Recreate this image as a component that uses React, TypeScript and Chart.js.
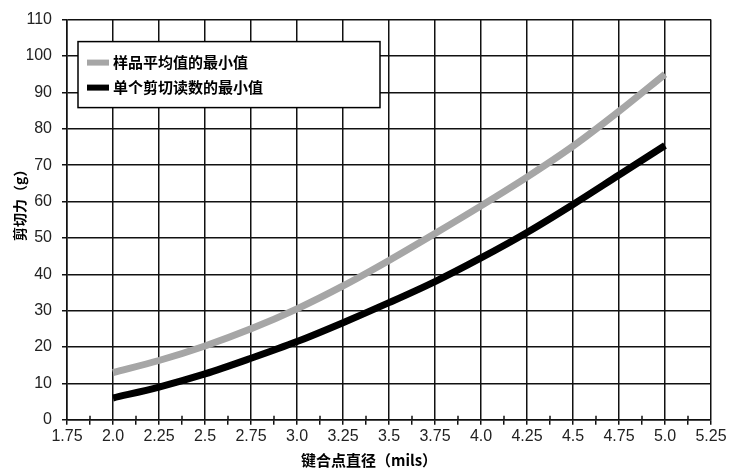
import React, { useEffect, useRef } from 'react';
import { Chart, registerables } from 'chart.js';

Chart.register(...registerables);

const xValues = [2.0, 2.25, 2.5, 2.75, 3.0, 3.25, 3.5, 3.75, 4.0, 4.25, 4.5, 4.75, 5.0];
const avgMin = [13, 16.3, 20.3, 25, 30.5, 36.8, 43.8, 51.2, 58.8, 66.7, 75.2, 84.8, 95];
const singleMin = [6, 9, 12.6, 16.9, 21.5, 26.7, 32.2, 38, 44.5, 51.5, 59.2, 67.3, 75.4];
const seriesLabels = ['样品平均值的最小值', '单个剪切读数的最小值'];
const xTitle = '键合点直径（mils）';
const yTitle = '剪切力（g）';

const LATIN = '"Liberation Sans", Arial, sans-serif';
const CJK = '"Noto Sans CJK SC", "Liberation Sans", sans-serif';

const fmtX = (v: number) => {
  const s = v.toFixed(2);
  return s.endsWith('0') ? s.slice(0, -1) : s;
};
const isMajor = (v: number) => Math.abs(v * 4 - Math.round(v * 4)) < 1e-6;

const extras = {
  id: 'extras',
  afterDatasetsDraw(chart: any) {
    const ctx = chart.ctx;
    const { left, top, bottom } = chart.chartArea;
    // minor tick marks crossing the x axis
    const xs = chart.scales.x;
    ctx.save();
    ctx.strokeStyle = '#111';
    ctx.lineWidth = 1.5;
    xs.ticks.forEach((t: any) => {
      if (!isMajor(t.value)) {
        const px = xs.getPixelForValue(t.value);
        ctx.beginPath();
        ctx.moveTo(px, bottom - 4);
        ctx.lineTo(px, bottom);
        ctx.stroke();
      }
    });
    // boxed legend
    const x = left + 11;
    const y = top + 22;
    const w = 302;
    const h = 66;
    ctx.fillStyle = '#ffffff';
    ctx.fillRect(x, y, w, h);
    ctx.strokeStyle = '#000000';
    ctx.lineWidth = 1.5;
    ctx.strokeRect(x, y, w, h);
    chart.data.datasets.forEach((ds: any, i: number) => {
      const cy = y + 21 + i * 25;
      ctx.fillStyle = ds.borderColor;
      ctx.fillRect(x + 9, cy - 3, 22, 6);
      ctx.fillStyle = '#000000';
      ctx.font = 'bold 15px ' + CJK;
      ctx.textBaseline = 'middle';
      ctx.textAlign = 'left';
      ctx.fillText(ds.label, x + 35, cy);
    });
    // y axis title
    ctx.translate(20, (top + bottom) / 2 - 18);
    ctx.rotate(-Math.PI / 2);
    ctx.fillStyle = '#000';
    ctx.font = 'bold 14px ' + CJK;
    ctx.textAlign = 'center';
    ctx.textBaseline = 'middle';
    ctx.fillText(yTitle, 0, 0);
    ctx.restore();
  },
};

export default function App() {
  const ref = useRef<HTMLCanvasElement>(null);
  useEffect(() => {
    if (!ref.current) return;
    const chart = new Chart(ref.current, {
      type: 'line',
      data: {
        datasets: [
          {
            label: seriesLabels[0],
            data: xValues.map((x, i) => ({ x, y: avgMin[i] })),
            borderColor: '#a6a6a6',
            backgroundColor: '#a6a6a6',
            borderWidth: 7,
            pointRadius: 0,
            cubicInterpolationMode: 'monotone',
          },
          {
            label: seriesLabels[1],
            data: xValues.map((x, i) => ({ x, y: singleMin[i] })),
            borderColor: '#000000',
            backgroundColor: '#000000',
            borderWidth: 7,
            pointRadius: 0,
            cubicInterpolationMode: 'monotone',
          },
        ],
      },
      options: {
        animation: false,
        responsive: false,
        layout: { padding: { top: 15, right: 21, left: 27, bottom: 0 } },
        plugins: {
          legend: { display: false },
          tooltip: { enabled: false },
          title: {
            display: true,
            position: 'bottom',
            text: xTitle,
            color: '#000',
            font: { family: CJK, size: 15, weight: 'bold' },
            padding: { top: 3, bottom: 2 },
          },
        },
        scales: {
          x: {
            type: 'linear',
            min: 1.75,
            max: 5.25,
            ticks: {
              stepSize: 0.125,
              autoSkip: false,
              maxRotation: 0,
              color: '#222',
              font: { family: LATIN, size: 16 },
              padding: 2,
              callback: (v: any) => (isMajor(Number(v)) ? fmtX(Number(v)) : ''),
            },
            grid: {
              color: (c: any) => (isMajor(c.tick.value) ? '#111' : 'rgba(0,0,0,0)'),
              tickColor: '#111',
              lineWidth: 1.5,
              tickLength: 5,
            },
            border: { color: '#111', width: 1.5 },
          },
          y: {
            min: 0,
            max: 110,
            afterFit: (s: any) => {
              s.width = 40;
            },
            ticks: {
              stepSize: 10,
              color: '#222',
              font: { family: LATIN, size: 16 },
              padding: 10,
            },
            grid: { color: '#111', lineWidth: 1.5, tickLength: 5 },
            border: { color: '#111', width: 1.5 },
          },
        },
      },
      plugins: [extras],
    } as any);
    return () => chart.destroy();
  }, []);
  return (
    <div style={{ position: 'fixed', left: 0, top: 0, width: 732, height: 471, background: '#fff' }}>
      <canvas ref={ref} width={732} height={471} />
    </div>
  );
}
